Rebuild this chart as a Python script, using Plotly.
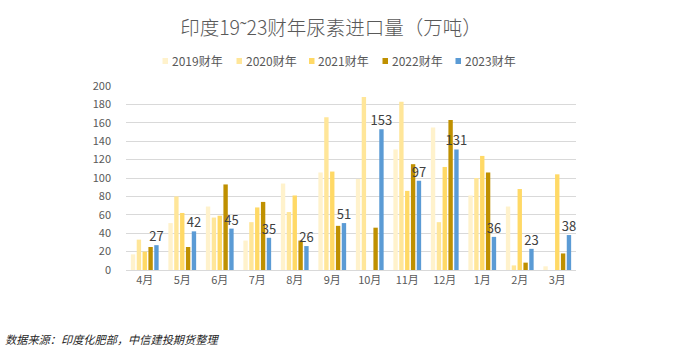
import plotly.graph_objects as go

months = ["4月", "5月", "6月", "7月", "8月", "9月", "10月", "11月", "12月", "1月", "2月", "3月"]
fy2019 = [17, 51, 69, 32, 94, 106, 99, 131, 155, 81, 69, 4]
fy2020 = [33, 80, 57, 52, 63, 166, 188, 183, 52, 100, 5, None]
fy2021 = [20, 62, 59, 68, 81, 107, None, 86, 112, 124, 88, 104]
fy2022 = [25, 25, 93, 74, 32, 48, 46, 115, 163, 106, 8, 18]
fy2023 = [27, 42, 45, 35, 26, 51, 153, 97, 131, 36, 23, 38]

series_names = ["2019财年", "2020财年", "2021财年", "2022财年", "2023财年"]
series_values = [fy2019, fy2020, fy2021, fy2022, fy2023]
colors = ["#FFF2CC", "#FFE699", "#FFD966", "#BF9000", "#5B9BD5"]

FONT = "Noto Sans CJK SC"
L, R, T, B = 126, 124, 86, 81
W, H = 700, 351
PW, PH = W - L - R, H - T - B


def px(x):
    return (x - L) / PW


def py(y):
    return (H - B - y) / PH


fig = go.Figure()
for i, (name, vals, col) in enumerate(zip(series_names, series_values, colors)):
    kw = {}
    if i == 4:
        kw = dict(text=[str(v) for v in vals], textposition="outside",
                  textfont=dict(size=13, color="#404040", family=FONT),
                  constraintext="none", cliponaxis=False)
    fig.add_trace(go.Bar(x=months, y=vals, name=name, marker=dict(color=col, line=dict(width=0)), **kw))

fig.update_layout(
    width=W, height=H,
    margin=dict(l=L, r=R, t=T, b=B),
    paper_bgcolor="white", plot_bgcolor="white",
    barmode="group", bargap=0.22, bargroupgap=0.25,
    font=dict(family=FONT, color="#595959", size=11),
    title=dict(text="印度19˜23财年尿素进口量（万吨）", x=331 / W, xanchor="center",
               y=1 - 28 / H, yanchor="middle",
               font=dict(size=19.5, color="#595959", family=FONT, weight=300)),
    showlegend=False,
)
fig.update_xaxes(showgrid=False, showline=True, linecolor="#D9D9D9", linewidth=1,
                 ticks="", tickfont=dict(size=11, color="#595959"))
fig.update_yaxes(range=[0, 200], dtick=20, showgrid=True, gridcolor="#D9D9D9", gridwidth=1,
                 zeroline=False, showline=False, ticks="", ticklabelstandoff=14,
                 tickfont=dict(size=11, color="#595959"))

# manual legend
leg_x = [162.5, 236.5, 309, 382.5, 455.5]
leg_y = 61
for xpos, name, col in zip(leg_x, series_names, colors):
    fig.add_shape(type="rect", xref="paper", yref="paper",
                  x0=px(xpos), x1=px(xpos + 5.5), y0=py(leg_y - 3), y1=py(leg_y + 3),
                  fillcolor=col, line=dict(width=0))
    fig.add_annotation(text=name, xref="paper", yref="paper", x=px(xpos + 7), y=py(leg_y),
                       xanchor="left", yanchor="middle", showarrow=False,
                       font=dict(size=12, color="#595959", family=FONT))

fig.add_annotation(text="<i>数据来源：印度化肥部，中信建投期货整理</i>", xref="paper", yref="paper",
                   x=px(3), xanchor="left", y=py(339), yanchor="middle",
                   showarrow=False, font=dict(size=11.2, color="#262626", family=FONT))

fig.write_html("out.html")
